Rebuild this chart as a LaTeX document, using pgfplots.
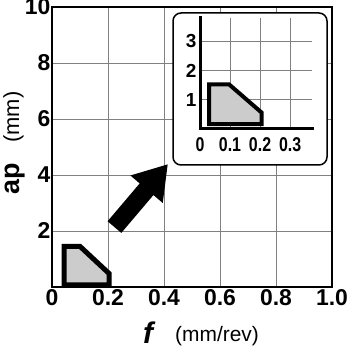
\documentclass[border=0pt]{standalone}
\usepackage{fontspec}
\setmainfont{Liberation Sans}
\newfontfamily\condfont[FakeStretch=0.8]{Liberation Sans}
\usepackage{pgfplots}
\pgfplotsset{compat=1.18}
\usetikzlibrary{arrows.meta}
\definecolor{gridgray}{gray}{0.5}
\definecolor{fillgray}{gray}{0.8}
\begin{document}
\begin{tikzpicture}[x=1bp,y=1bp]
\begin{axis}[
  at={(52bp,63bp)}, anchor=south west,
  width=280bp, height=280bp, scale only axis,
  xmin=0, xmax=1, ymin=0, ymax=10,
  xtick={0,0.2,0.4,0.6,0.8,1}, xticklabels={0,0.2,0.4,0.6,0.8,1.0},
  ytick={2,4,6,8,10}, yticklabels={2,4,6,8,10},
  grid=major, major grid style={gridgray, line width=0.9bp},
  major tick length=0,
  axis line style={line width=2.5bp},
  tick label style={font=\fontsize{23}{23}\selectfont\bfseries},
  xticklabel style={yshift=1.5bp},
  yticklabel style={xshift=2bp},
  /pgf/number format/assume math mode=true,
  clip=false,
]
\addplot[draw=black, line width=5bp, fill=fillgray, line join=miter]
  coordinates {(0.043,0.08) (0.043,1.45) (0.10,1.45) (0.204,0.48) (0.204,0.08)} -- cycle;
\draw[line width=18bp, -{Triangle[width=40bp,length=33bp]}]
  (axis cs:0.223,2.14) -- (axis cs:0.414,4.39);
\end{axis}
\draw[fill=white, line width=1.5bp, rounded corners=8bp] (173,185) rectangle (327,337);
\begin{axis}[
  at={(200bp,221.5bp)}, anchor=south west,
  width=112bp, height=110.5bp, scale only axis,
  xmin=0, xmax=0.373, ymin=0, ymax=3.81,
  axis x line=bottom, axis y line=left,
  axis line style={-, line width=3bp, line cap=rect},
  xtick={0,0.1,0.2,0.3}, xticklabels={0,0.1,0.2,0.3},
  ytick={1,2,3}, yticklabels={1,2,3},
  grid=major, major grid style={gridgray, line width=0.9bp},
  major tick length=0,
  xticklabel style={font=\condfont\fontsize{20}{20}\selectfont\bfseries, yshift=-6bp},
  yticklabel style={font=\fontsize{19}{19}\selectfont\bfseries},
  /pgf/number format/assume math mode=true,
]
\addplot[draw=black, line width=4bp, fill=fillgray, line join=miter]
  coordinates {(0.03,0.15) (0.03,1.52) (0.097,1.52) (0.205,0.55) (0.205,0.15)} -- cycle;
\end{axis}
\node[anchor=base west, inner sep=0] at (143,7)
  {\fontsize{30}{30}\selectfont\bfseries\itshape f};
\node[anchor=base west, inner sep=0] at (175,9)
  {\fontsize{21}{21}\selectfont (mm/rev)};
\node[anchor=base west, inner sep=0, rotate=90] at (19,155)
  {\fontsize{27}{27}\selectfont\bfseries ap};
\node[anchor=base west, inner sep=0, rotate=90] at (19,207)
  {\fontsize{22}{22}\selectfont (mm)};
\pgfresetboundingbox
\path (0,0) rectangle (350,350);
\end{tikzpicture}
\end{document}
